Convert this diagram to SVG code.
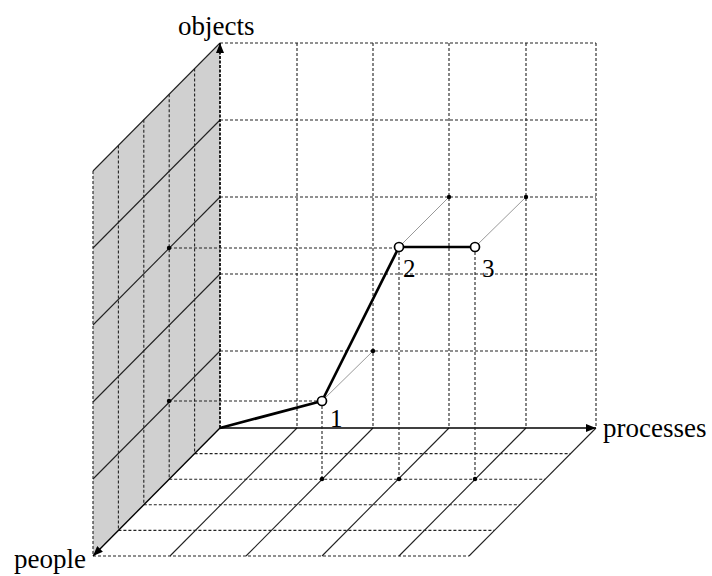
<svg xmlns="http://www.w3.org/2000/svg" width="712" height="576" viewBox="0 0 712 576">
<style>
.dash{stroke:#222;stroke-width:1.1;stroke-dasharray:3 2;fill:none}
.solid{stroke:#222;stroke-width:1.1;fill:none}
.proj{stroke:#999;stroke-width:1;fill:none}
.axis{stroke:#000;stroke-width:1.4;fill:none}
.path{stroke:#000;stroke-width:2.7;fill:none;stroke-linejoin:round}
.pt{fill:#fff;stroke:#000;stroke-width:1.7}
.dot{fill:#000}
text{font-family:"Liberation Serif","Times New Roman",serif;fill:#000}
.lbl{font-size:27px}
.num{font-size:25px}
</style>
<defs>
<marker id="arr" viewBox="0 0 10 8" refX="10" refY="4" markerWidth="10" markerHeight="8" markerUnits="userSpaceOnUse" orient="auto">
<path d="M0,0 L10,4 L0,8 Z" fill="#000"/>
</marker>
</defs>

<g id="left-wall">
<polygon points="220,43 220,428 93,556 93,171" fill="#d0d0d0"/>
<line class="solid" x1="220" y1="43" x2="93" y2="171"/>
<line class="solid" x1="220" y1="120" x2="93" y2="248"/>
<line class="solid" x1="220" y1="197" x2="93" y2="325"/>
<line class="solid" x1="220" y1="274" x2="93" y2="402"/>
<line class="solid" x1="220" y1="351" x2="93" y2="479"/>
<line class="dash" x1="194.6" y1="68.6" x2="194.6" y2="453.6"/>
<line class="dash" x1="169.2" y1="94.2" x2="169.2" y2="479.2"/>
<line class="dash" x1="143.8" y1="119.8" x2="143.8" y2="504.8"/>
<line class="dash" x1="118.4" y1="145.4" x2="118.4" y2="530.4"/>
<line class="dash" x1="93" y1="171" x2="93" y2="556"/>
</g>

<g id="back-wall">
<line class="dash" x1="220" y1="43" x2="596" y2="43"/>
<line class="dash" x1="220" y1="120" x2="596" y2="120"/>
<line class="dash" x1="220" y1="197" x2="596" y2="197"/>
<line class="dash" x1="220" y1="274" x2="596" y2="274"/>
<line class="dash" x1="220" y1="351" x2="596" y2="351"/>
<line class="dash" x1="297" y1="43" x2="297" y2="428"/>
<line class="dash" x1="373" y1="43" x2="373" y2="428"/>
<line class="dash" x1="449" y1="43" x2="449" y2="428"/>
<line class="dash" x1="526" y1="43" x2="526" y2="428"/>
<line class="dash" x1="596" y1="43" x2="596" y2="428"/>
</g>

<g id="floor">
<line class="dash" x1="194.6" y1="453.6" x2="570.6" y2="453.6"/>
<line class="dash" x1="169.2" y1="479.2" x2="545.2" y2="479.2"/>
<line class="dash" x1="143.8" y1="504.8" x2="519.8" y2="504.8"/>
<line class="dash" x1="118.4" y1="530.4" x2="494.4" y2="530.4"/>
<line class="dash" x1="93" y1="556" x2="469" y2="556"/>
<line class="solid" x1="297" y1="428" x2="170" y2="556"/>
<line class="solid" x1="373" y1="428" x2="246" y2="556"/>
<line class="solid" x1="449" y1="428" x2="322" y2="556"/>
<line class="solid" x1="526" y1="428" x2="399" y2="556"/>
<line class="solid" x1="596" y1="428" x2="469" y2="556"/>
</g>

<g id="axes">
<line x1="220" y1="428" x2="220" y2="43" stroke="#000" stroke-width="1.7" stroke-dasharray="3 1.5" marker-end="url(#arr)"/>
<line class="axis" x1="220" y1="428" x2="596" y2="428" marker-end="url(#arr)"/>
<line class="axis" x1="220" y1="428" x2="93" y2="556" marker-end="url(#arr)"/>
</g>

<g id="connectors">
<line class="proj" x1="322" y1="401" x2="373" y2="351"/>
<line class="proj" x1="399" y1="247" x2="449" y2="197"/>
<line class="proj" x1="475" y1="247" x2="526" y2="197"/>
<line class="dash" x1="169" y1="248" x2="399" y2="248"/>
<line class="dash" x1="169" y1="401" x2="322" y2="401"/>
<line class="dash" x1="322" y1="401" x2="322" y2="479"/>
<line class="dash" x1="399" y1="247" x2="399" y2="479"/>
<line class="dash" x1="475" y1="247" x2="475" y2="479"/>
<polyline class="path" points="220,428 322,401 399,247 475,247"/>
</g>

<g id="markers">
<circle class="dot" cx="373" cy="351" r="2.2"/>
<circle class="dot" cx="449" cy="197" r="2.2"/>
<circle class="dot" cx="526" cy="197" r="2.2"/>
<circle class="dot" cx="169" cy="248" r="2.2"/>
<circle class="dot" cx="169" cy="401" r="2.2"/>
<circle class="dot" cx="322" cy="479" r="2.2"/>
<circle class="dot" cx="399" cy="479" r="2.2"/>
<circle class="dot" cx="475" cy="479" r="2.2"/>
</g>

<g id="point-1">
<circle class="pt" cx="322" cy="401" r="4.5"/>
<text class="num" x="330" y="427">1</text>
</g>
<g id="point-2">
<circle class="pt" cx="399" cy="247" r="4.5"/>
<text class="num" x="403" y="277">2</text>
</g>
<g id="point-3">
<circle class="pt" cx="475" cy="247" r="4.5"/>
<text class="num" x="482" y="277">3</text>
</g>

<g id="labels">
<text class="lbl" x="178" y="35">objects</text>
<text class="lbl" x="603" y="437">processes</text>
<text class="lbl" x="14" y="568">people</text>
</g>
</svg>
